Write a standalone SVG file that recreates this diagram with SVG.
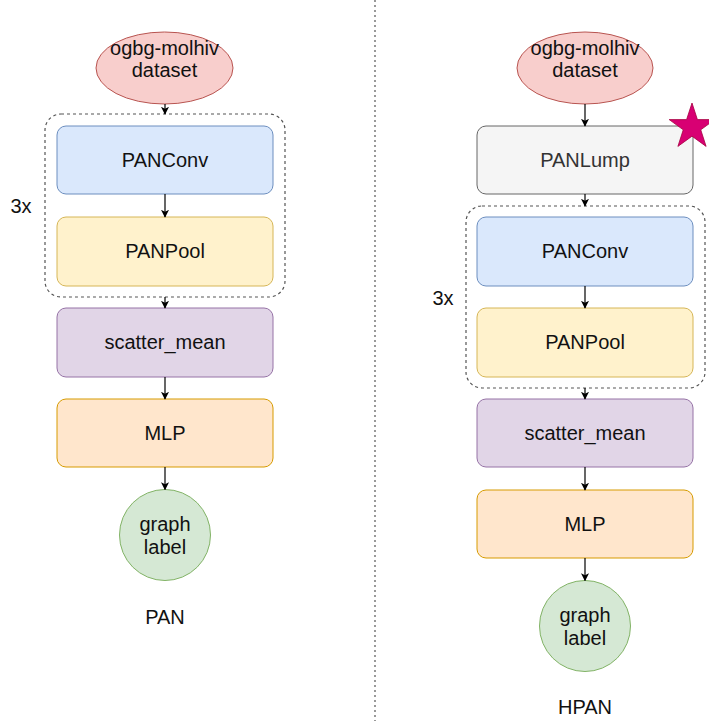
<svg xmlns="http://www.w3.org/2000/svg" width="709" height="721" viewBox="0 0 709 721">
<defs>
<marker id="ah" viewBox="0 0 10 10" refX="9" refY="5" markerWidth="8" markerHeight="8" markerUnits="userSpaceOnUse" orient="auto">
<path d="M0,0 L10,5 L0,10 L2.5,5 Z" fill="#000"/>
</marker>
</defs>
<style>
text{font-family:"Liberation Sans",Arial,sans-serif;font-size:20px;fill:#111;text-anchor:middle}
.grp{fill:none;stroke:#555;stroke-width:1.2;stroke-dasharray:3 3}
.edge{stroke:#000;stroke-width:1.2;fill:none;marker-end:url(#ah)}
.red{fill:#f8cecc;stroke:#b85450}
.blue{fill:#dae8fc;stroke:#6c8ebf}
.yel{fill:#fff2cc;stroke:#d6b656}
.pur{fill:#e1d5e7;stroke:#9673a6}
.ora{fill:#ffe6cc;stroke:#d79b00}
.grn{fill:#d5e8d4;stroke:#82b366}
.gry{fill:#f5f5f5;stroke:#666}
</style>
<rect width="709" height="721" fill="#fff"/>
<line x1="375" y1="0" x2="375" y2="721" stroke="#555" stroke-width="1.2" stroke-dasharray="2 3"/>

<g id="pan-group"><rect class="grp" x="45" y="114" width="240" height="183" rx="16"/><text x="21" y="213">3x</text></g>
<g id="pan-dataset"><ellipse class="red" cx="164.5" cy="68" rx="68.5" ry="36"/><text x="164.5" y="55">ogbg-molhiv</text><text x="164.5" y="77">dataset</text></g>
<g id="pan-conv"><rect class="blue" x="57" y="126" width="216" height="68" rx="9"/><text x="165" y="167">PANConv</text></g>
<g id="pan-pool"><rect class="yel" x="57" y="217" width="216" height="69" rx="9"/><text x="165" y="258">PANPool</text></g>
<g id="pan-scatter"><rect class="pur" x="57" y="308" width="216" height="69" rx="9"/><text x="165" y="349">scatter_mean</text></g>
<g id="pan-mlp"><rect class="ora" x="57" y="399" width="216" height="68" rx="9"/><text x="165" y="440">MLP</text></g>
<g id="pan-label"><circle class="grn" cx="165" cy="535" r="45.5"/><text x="165" y="531">graph</text><text x="165" y="554">label</text></g>
<g id="pan-title"><text x="165" y="624">PAN</text></g>

<g id="hpan-group"><rect class="grp" x="466" y="206" width="239" height="182" rx="16"/><text x="443" y="305">3x</text></g>
<g id="hpan-dataset"><ellipse class="red" cx="585" cy="68" rx="68" ry="36"/><text x="585" y="55">ogbg-molhiv</text><text x="585" y="77">dataset</text></g>
<g id="hpan-lump"><rect class="gry" x="477" y="126" width="216" height="68" rx="9"/><text x="585" y="167" style="fill:#333">PANLump</text></g>
<g id="hpan-star"><polygon points="692,103 697.4,119.6 714.8,119.6 700.75,129.8 706.1,146.4 692,136.2 677.9,146.4 683.25,129.8 669.2,119.6 686.6,119.6" fill="#d80073" stroke="#a50040" stroke-width="0.8"/></g>
<g id="hpan-conv"><rect class="blue" x="477" y="217" width="216" height="69" rx="9"/><text x="585" y="258">PANConv</text></g>
<g id="hpan-pool"><rect class="yel" x="477" y="308" width="216" height="69" rx="9"/><text x="585" y="349">PANPool</text></g>
<g id="hpan-scatter"><rect class="pur" x="477" y="399" width="216" height="68" rx="9"/><text x="585" y="440">scatter_mean</text></g>
<g id="hpan-mlp"><rect class="ora" x="477" y="490" width="216" height="68" rx="9"/><text x="585" y="531">MLP</text></g>
<g id="hpan-label"><circle class="grn" cx="585" cy="626" r="45.5"/><text x="585" y="622">graph</text><text x="585" y="645">label</text></g>
<g id="hpan-title"><text x="585" y="714">HPAN</text></g>

<g id="connectors">
<line class="edge" x1="165" y1="104" x2="165" y2="114"/>
<line class="edge" x1="165" y1="194" x2="165" y2="217"/>
<line class="edge" x1="165" y1="297" x2="165" y2="308"/>
<line class="edge" x1="165" y1="377" x2="165" y2="399"/>
<line class="edge" x1="165" y1="467" x2="165" y2="489.5"/>
<line class="edge" x1="585" y1="104" x2="585" y2="126"/>
<line class="edge" x1="585" y1="194" x2="585" y2="206"/>
<line class="edge" x1="585" y1="286" x2="585" y2="308"/>
<line class="edge" x1="585" y1="388" x2="585" y2="399"/>
<line class="edge" x1="585" y1="467" x2="585" y2="490"/>
<line class="edge" x1="585" y1="558" x2="585" y2="580.5"/>
</g>
</svg>
